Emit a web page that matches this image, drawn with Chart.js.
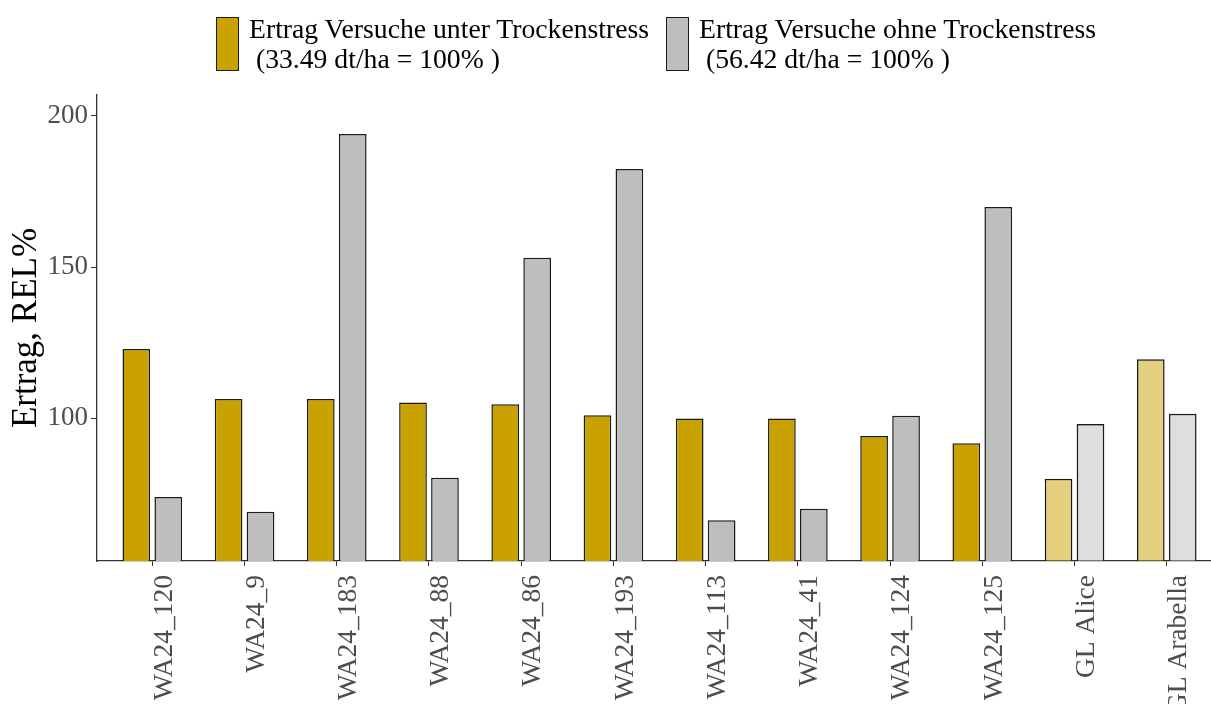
<!DOCTYPE html>
<html>
<head>
<meta charset="utf-8">
<script src="https://cdn.jsdelivr.net/npm/chart.js@4"></script>
<style>
  html, body { margin: 0; padding: 0; background: #fff; }
  #wrap { position: relative; width: 1211px; height: 704px; overflow: hidden; }
  #legend { position: absolute; left: 0; top: 0; width: 1211px; height: 90px; }
  .key { position: absolute; top: 17px; width: 21px; height: 52px; border: 1.2px solid #1a1a1a; }
  .lbl { position: absolute; top: 13.6px; font: 27.7px "Liberation Serif", "Times New Roman", serif;
         line-height: 30px; white-space: pre; color: #000; }
</style>
</head>
<body>
<div id="wrap">
  <canvas id="chart" width="1211" height="704"></canvas>
  <div id="legend"></div>
</div>
<script>
// Sorten / Zuchtstämme
var sorten = ["WA24_120", "WA24_9", "WA24_183", "WA24_88", "WA24_86", "WA24_193",
              "WA24_113", "WA24_41", "WA24_124", "WA24_125", "GL Alice", "GL Arabella"];
// Vergleichssorten werden blasser gezeichnet
var checks = ["GL Alice", "GL Arabella"];

// Relativertrag in %
var mitStress  = [122.9, 106.4, 106.4, 105.2, 104.6, 101.0, 99.9, 99.9, 94.1, 91.7, 80.0, 119.5];
var ohneStress = [74.0, 69.1, 194.0, 80.3, 153.1, 182.4, 66.3, 70.1, 100.8, 169.9, 98.1, 101.5];

var serien = ["Ertrag Versuche unter Trockenstress\n (33.49 dt/ha = 100% )",
              "Ertrag Versuche ohne Trockenstress\n (56.42 dt/ha = 100% )"];
var yTicks = [100, 150, 200];

var fonts = '"Liberation Serif", "Times New Roman", serif';

function fills(rgb) {
    return sorten.map(function (s) {
        var a = checks.indexOf(s) >= 0 ? 0.5 : 1;
        return "rgba(" + rgb + "," + a + ")";
    });
}
function punkte(werte) {
    return werte.map(function (v, i) { return { x: i, y: v }; });
}

var farben = ["201,162,0", "190,190,190"];

// Legende oben
var legend = document.getElementById("legend");
var keyX = [216, 665.6], txtX = [249, 699];
serien.forEach(function (name, i) {
    var k = document.createElement("div");
    k.className = "key";
    k.style.left = keyX[i] + "px";
    k.style.background = "rgb(" + farben[i] + ")";
    legend.appendChild(k);
    var t = document.createElement("div");
    t.className = "lbl";
    t.style.left = txtX[i] + "px";
    t.textContent = name;
    legend.appendChild(t);
});

var ctx = document.getElementById("chart");
var chart = new Chart(ctx, {
    type: "bar",
    data: {
        datasets: [{
            label: serien[0],
            data: punkte(mitStress),
            backgroundColor: fills(farben[0]),
            borderColor: "#1a1a1a",
            borderWidth: 1.5
        }, {
            label: serien[1],
            data: punkte(ohneStress),
            backgroundColor: fills(farben[1]),
            borderColor: "#1a1a1a",
            borderWidth: 1.5
        }]
    },
    options: {
        responsive: false,
        animation: false,
        categoryPercentage: 0.693,
        barPercentage: 0.867,
        layout: { padding: { top: 95, left: 0, right: 0, bottom: 0 } },
        plugins: { legend: { display: false }, tooltip: { enabled: false } },
        scales: {
            x: {
                type: "linear",
                offset: false,
                min: -0.6,
                max: 11.48,
                afterBuildTicks: function (scale) {
                    scale.ticks = sorten.map(function (s, i) { return { value: i }; });
                },
                afterFit: function (scale) { scale.height = 143; },
                grid: { offset: false, drawOnChartArea: false, drawTicks: true, tickLength: 5, color: "#333" },
                border: { color: "#333", width: 1.3 },
                ticks: {
                    autoSkip: false,
                    minRotation: 90,
                    maxRotation: 90,
                    labelOffset: 12,
                    padding: 9,
                    color: "#4d4d4d",
                    font: { family: fonts, size: 27.5 },
                    callback: function (v) { return sorten[v]; }
                }
            },
            y: {
                min: 52.8,
                max: 206.9,
                afterBuildTicks: function (scale) {
                    scale.ticks = yTicks.map(function (v) { return { value: v }; });
                },
                afterFit: function (scale) { scale.width = 97; },
                grid: { drawOnChartArea: false, drawTicks: true, tickLength: 6, color: "#333" },
                border: { color: "#333", width: 1.3 },
                ticks: {
                    padding: 3,
                    color: "#4d4d4d",
                    font: { family: fonts, size: 27 }
                },
                title: {
                    display: true,
                    text: "Ertrag, REL%",
                    color: "#000",
                    font: { family: fonts, size: 35 },
                    padding: { top: 6, bottom: 0 }
                }
            }
        }
    }
});
</script>
</body>
</html>
